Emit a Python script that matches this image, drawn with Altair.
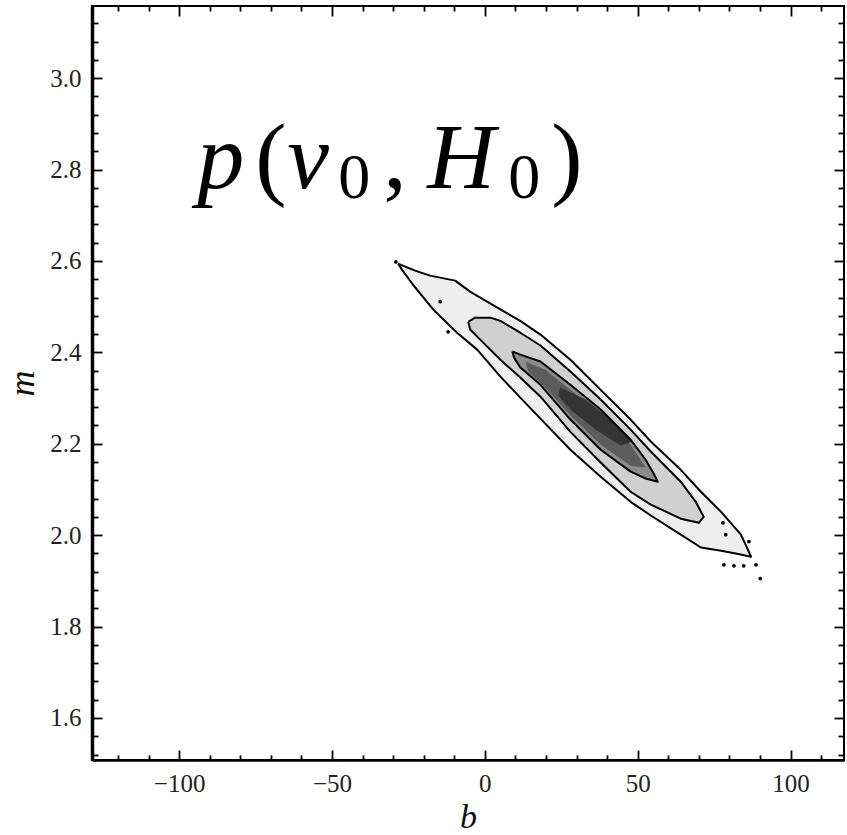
import altair as alt
import pandas as pd

# ---------------- data ----------------
# Contour polygons (b, m) of the posterior p(v0, H0)
OUTER_B = [-28.4, -22.8, -17.9, -9.7, -4.8, -1.5, 5.1, 11.6, 18.2, 28.0, 37.9, 47.7, 54.3, 64.1, 70.7, 77.3, 83.8, 87.1,
           82.1, 77.3, 70.7, 64.1, 54.3, 47.7, 37.9, 28.0, 18.2, 11.6, 5.1, -2.5, -9.1, -16.9, -23.5, -27.1]
OUTER_M = [2.594, 2.579, 2.568, 2.557, 2.533, 2.520, 2.494, 2.469, 2.439, 2.384, 2.318, 2.253, 2.205, 2.143, 2.095, 2.051, 2.001, 1.953,
           1.960, 1.966, 1.973, 2.001, 2.043, 2.073, 2.128, 2.187, 2.255, 2.301, 2.347, 2.406, 2.443, 2.494, 2.548, 2.581]

SECOND_B = [-5.4, -3.2, 1.8, 5.1, 11.6, 18.2, 28.0, 37.9, 47.7, 54.3, 64.1, 69.0, 71.6, 70.0,
            64.1, 54.3, 47.7, 37.9, 28.0, 18.2, 11.6, 5.1, -1.5, -4.8]
SECOND_M = [2.467, 2.476, 2.476, 2.469, 2.443, 2.415, 2.358, 2.297, 2.231, 2.183, 2.117, 2.073, 2.040, 2.027,
            2.036, 2.067, 2.095, 2.159, 2.226, 2.303, 2.345, 2.384, 2.428, 2.450]

INNER_B = [9.0, 11.6, 18.2, 28.0, 37.9, 47.7, 52.6, 54.9, 56.6, 52.6, 47.7, 37.9, 28.0, 18.2, 11.6, 9.6]
INNER_M = [2.402, 2.395, 2.380, 2.329, 2.275, 2.209, 2.165, 2.139, 2.117, 2.124, 2.139, 2.187, 2.253, 2.329, 2.367, 2.388]

# darker shading inside the innermost contour
CORE1_B = [13.3, 19.8, 28.0, 37.9, 47.7, 52.6, 47.7, 37.9, 28.0, 19.8, 14.2]
CORE1_M = [2.380, 2.362, 2.318, 2.264, 2.198, 2.148, 2.152, 2.198, 2.262, 2.323, 2.358]
CORE2_B = [24.7, 33.0, 41.2, 48.4, 44.4, 36.2, 28.0, 24.1]
CORE2_M = [2.323, 2.297, 2.253, 2.205, 2.196, 2.231, 2.275, 2.305]

# small isolated contour islands near the tips
DOT_B = [-29.1, -14.6, -12.0, 78.2, 81.5, 84.7, 88.7, 90.1, 77.9, 78.8, 86.4]
DOT_M = [2.598, 2.511, 2.445, 1.935, 1.933, 1.933, 1.935, 1.905, 2.027, 2.001, 1.986]

# axes
X_DOMAIN = [-128.5, 117.5]
Y_DOMAIN = [1.508, 3.158]
X_MAJOR = [-100, -50, 0, 50, 100]
X_MINOR = [-120, -110, -90, -80, -70, -60, -40, -30, -20, -10, 10, 20, 30, 40, 60, 70, 80, 90, 110]
Y_MAJOR = [1.6, 1.8, 2.0, 2.2, 2.4, 2.6, 2.8, 3.0]
Y_MINOR = [1.52, 1.56, 1.64, 1.68, 1.72, 1.76, 1.84, 1.88, 1.92, 1.96, 2.04, 2.08, 2.12, 2.16,
           2.24, 2.28, 2.32, 2.36, 2.44, 2.48, 2.52, 2.56, 2.64, 2.68, 2.72, 2.76, 2.84, 2.88,
           2.92, 2.96, 3.04, 3.08, 3.12]

# annotation p(v_0, H_0)
ANNOT_B = -94.1
ANNOT_M = 2.760
ANNOT_TEXT = ["p", "(", "v", "0", ",", "H", "0", ")"]

# ---------------- styles ----------------
FILLS = {"outer": "#efefef", "second": "#d0d0d0", "inner": "#8c8c8c", "core1": "#5c5c5c", "core2": "#343434"}
ANNOT_DX = [0, 58, 90, 141, 186, 230, 311, 354]
ANNOT_DY = [0, 0, 0, 10, 0, 0, 10, 0]
ANNOT_SIZE = [94, 94, 94, 64, 94, 94, 64, 94]
ANNOT_STYLE = ["italic", "normal", "italic", "normal", "normal", "italic", "normal", "normal"]

W, H = 752, 754
SERIF = "Liberation Serif"

polys = {"outer": (OUTER_B, OUTER_M), "second": (SECOND_B, SECOND_M), "inner": (INNER_B, INNER_M),
         "core1": (CORE1_B, CORE1_M), "core2": (CORE2_B, CORE2_M)}
rows = []
for name, (bs, ms) in polys.items():
    pts = list(zip(bs, ms)) + [(bs[0], ms[0])]
    for i, (b, m) in enumerate(pts):
        rows.append({"poly": name, "i": i, "b": b, "m": m})
df = pd.DataFrame(rows)
dots = pd.DataFrame({"b": DOT_B, "m": DOT_M})
annot = pd.DataFrame({"b": [ANNOT_B], "m": [ANNOT_M]})

xs = alt.Scale(domain=X_DOMAIN, nice=False, zero=False)
ys = alt.Scale(domain=Y_DOMAIN, nice=False, zero=False)


def xenc(axis=None):
    return alt.X("b:Q", scale=xs, axis=axis)


def yenc(axis=None):
    return alt.Y("m:Q", scale=ys, axis=axis)


label_x = alt.Axis(values=X_MAJOR, format="d", orient="bottom", ticks=False, tickSize=0, labelPadding=11,
                   labelFont=SERIF, labelFontSize=25, labelColor="#222222", grid=False,
                   title="b", titleFont=SERIF, titleFontStyle="italic", titleFontWeight="normal",
                   titleFontSize=34, titleColor="#111111", titlePadding=31, titleBaseline="alphabetic",
                   domain=True, domainColor="black", domainWidth=2.5)
label_y = alt.Axis(values=Y_MAJOR, format=".1f", orient="left", ticks=False, tickSize=0, labelPadding=11,
                   labelFont=SERIF, labelFontSize=25, labelColor="#222222", grid=False,
                   title="m", titleFont=SERIF, titleFontStyle="italic", titleFontWeight="normal",
                   titleFontSize=36, titleColor="#111111", titlePadding=8,
                   domain=True, domainColor="black", domainWidth=3.5)


def tick_axis(orient, offset, values, size):
    return alt.Axis(orient=orient, offset=offset, values=values, labels=False, domain=False, grid=False,
                    ticks=True, tickSize=size, tickWidth=1.8, tickColor="black", title=None)


layers = []
# filled bands
first = True
for name in ["outer", "second", "inner", "core1", "core2"]:
    if first:
        enc = dict(x=xenc(label_x), y=yenc(label_y))
        first = False
    else:
        enc = dict(x=xenc(), y=yenc())
    layers.append(
        alt.Chart(df).transform_filter(alt.datum.poly == name)
        .mark_line(fill=FILLS[name], strokeOpacity=0, strokeWidth=0)
        .encode(order="i:Q", **enc)
    )
# contour lines
for name in ["outer", "second", "inner"]:
    layers.append(
        alt.Chart(df).transform_filter(alt.datum.poly == name)
        .mark_line(color="black", strokeWidth=2, strokeJoin="round")
        .encode(x=xenc(), y=yenc(), order="i:Q")
    )
# islands
layers.append(alt.Chart(dots).mark_circle(color="black", size=14, opacity=1).encode(x=xenc(), y=yenc()))

# inward ticks on all four sides
tick_specs = [
    ("top", -H, X_MAJOR, 10, "right", -W, Y_MAJOR, 10),
    ("bottom", -H, X_MAJOR, 10, "left", -W, Y_MAJOR, 10),
    ("top", -H, X_MINOR, 5, "right", -W, Y_MINOR, 6),
    ("bottom", -H, X_MINOR, 5, "left", -W, Y_MINOR, 6),
]
for xo, xoff, xv, xsz, yo, yoff, yv, ysz in tick_specs:
    layers.append(
        alt.Chart(dots).mark_point(opacity=0).encode(
            x=xenc(tick_axis(xo, xoff, xv, xsz)), y=yenc(tick_axis(yo, yoff, yv, ysz)))
    )

# annotation
for txt, dx, dy, sz, st in zip(ANNOT_TEXT, ANNOT_DX, ANNOT_DY, ANNOT_SIZE, ANNOT_STYLE):
    layers.append(
        alt.Chart(annot).mark_text(text=txt, dx=dx, dy=dy, fontSize=sz, fontStyle=st, font=SERIF,
                                   align="left", baseline="alphabetic", color="black")
        .encode(x=xenc(), y=yenc())
    )

chart = (
    alt.layer(*layers)
    .resolve_axis(x="independent", y="independent")
    .properties(width=W, height=H, autosize=alt.AutoSizeParams(type="none"),
                padding={"left": 92, "top": 6, "right": 3, "bottom": 75}, background="white")
    .configure_view(stroke="black", strokeWidth=2)
)

chart.save("out.html", embed_options={"renderer": "svg", "actions": False})
